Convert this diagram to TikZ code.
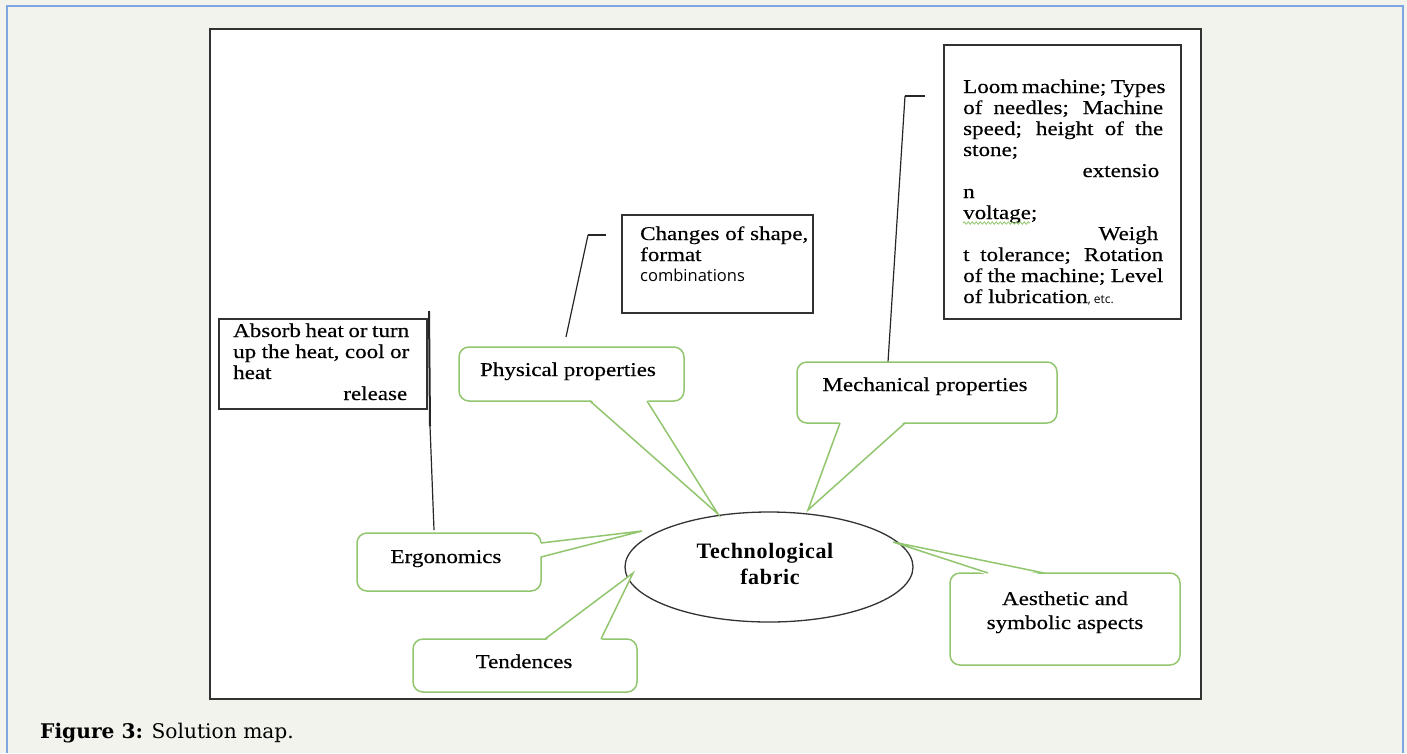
\documentclass[tikz,border=0pt]{standalone}
\usepackage{fontspec}
\setmainfont{Liberation Serif}
\newfontfamily\lab{Liberation Serif}[FakeStretch=1.18,FakeBold=0.35]
\newfontfamily\capfont{DejaVu Serif}
\newfontfamily\sansf{Open Sans}
\usetikzlibrary{shapes.geometric,decorations.pathmorphing,calc}
\definecolor{bg}{RGB}{243,243,238}
\definecolor{frameblue}{RGB}{125,165,225}
\definecolor{cgreen}{RGB}{146,198,110}
\definecolor{boxgray}{RGB}{50,50,50}
\newcommand{\labsize}{\lab\fontsize{19.5}{21}\selectfont}
\begin{document}
\begin{tikzpicture}[x=1pt,y=-1pt,
  callout/.style={draw=cgreen, line width=1.5pt, fill=white, rounded corners=10pt, inner sep=0pt},
  txtbox/.style={draw=boxgray, line width=1.4pt, fill=white, inner sep=0pt},
  lead/.style={draw=black!85, line width=1.2pt},
  ptr/.style={draw=cgreen, line width=1.5pt, line join=miter},
  lbl/.style={font=\labsize, inner sep=0pt, anchor=base},
  blk/.style={inner sep=0pt, anchor=base west, align=left}
]
\fill[bg] (0,0) rectangle (1407,753);
\useasboundingbox (0,0) rectangle (1407,753);
\draw[frameblue, line width=1.2pt] (7,753) -- (7,6) -- (1403,6) -- (1403,753);
% panel
\node[draw=boxgray, line width=1.2pt, fill=white, minimum width=991pt, minimum height=670pt, inner sep=0pt] (panel) at (705.5,364) {};

% text boxes
\node[txtbox, minimum width=237pt, minimum height=274pt] (mechbox) at (1062.5,182) {};
\node[txtbox, minimum width=191pt, minimum height=98pt] (physbox) at (717.5,264) {};
\node[txtbox, minimum width=208pt, minimum height=90pt] (ergobox) at (323,364) {};

\node[blk] (mechtxt) at (963,93) {\labsize\parbox[t]{200pt}{%
\makebox[200pt][s]{Loom machine; Types}\\
\makebox[200pt][s]{of needles; Machine}\\
\makebox[200pt][s]{speed; height of the}\\
stone;\\
\makebox[200pt][r]{extensio\hspace{4pt}}\\
n\\
voltage;\\
\makebox[200pt][r]{Weigh\hspace{5pt}}\\
\makebox[200pt][s]{t tolerance; Rotation}\\
\makebox[200pt][s]{of the machine; Level}\\
of lubrication{\sansf\fontsize{12}{12}\selectfont, etc.}}};
\coordinate (wv1) at (963,223);
\coordinate (wv2) at (1030,223);
\draw[cgreen, line width=0.8pt, decorate, decoration={snake, amplitude=1.2pt, segment length=4pt}] (wv1) -- (wv2);

\node[blk] (phystxt) at (640,240) {\labsize\parbox[t]{170pt}{%
Changes of shape,\\
format\\[-1pt]
{\sansf\fontsize{16.5}{21}\selectfont combinations}}};

\node[blk] (ergotxt) at (233,337) {\labsize\parbox[t]{176pt}{%
\makebox[176pt][s]{Absorb heat or turn}\\
\makebox[176pt][s]{up the heat, cool or}\\
heat\\
\makebox[176pt][r]{release\hspace{2pt}}}};

% leaders
\coordinate (mh1) at (925,96);
\coordinate (mh2) at (905,96);
\coordinate (mhe) at (888,362);
\draw[lead, line width=1.5pt] (mh1) -- (mh2);
\draw[lead] (mh2) -- (mhe);
\coordinate (ph1) at (606,235);
\coordinate (ph2) at (588,235);
\coordinate (phe) at (566,337);
\draw[lead, line width=1.5pt] (ph1) -- (ph2);
\draw[lead] (ph2) -- (phe);
\coordinate (eh1) at (429,311);
\coordinate (eh2) at (430,426);
\coordinate (ehe) at (434,530);
\draw[lead, line width=2pt] (eh1) -- (eh2);
\draw[lead] (eh2) -- (ehe);

% ellipse
\node[ellipse, draw=black!80, line width=1.3pt, fill=white, minimum width=288pt, minimum height=110pt, inner sep=0pt] (fab) at (769,567) {};
\node[inner sep=0pt, anchor=base, font=\fontsize{22}{24}\selectfont\bfseries\addfontfeature{LetterSpace=3}] (fab1) at (765,558) {Technological};
\node[inner sep=0pt, anchor=base, font=\fontsize{22}{24}\selectfont\bfseries\addfontfeature{LetterSpace=3}] (fab2) at (770,584) {fabric};

% callouts
\node[callout, minimum width=184pt, minimum height=58pt] (ergo) at (449,562) {};
\node[callout, minimum width=224pt, minimum height=53pt] (tend) at (525,665.5) {};
\node[callout, minimum width=225pt, minimum height=54pt] (phys) at (571.5,374) {};
\node[callout, minimum width=260pt, minimum height=61pt] (mech) at (927,392.5) {};
\node[callout, minimum width=230pt, minimum height=92pt] (aest) at (1065,619) {};

% pointers
\coordinate (eb1) at (541,543); \coordinate (eb2) at (541,557); \coordinate (et) at (642,531);
\fill[white] ($(eb1)+(-2,0)$) -- (et) -- ($(eb2)+(-2,0)$) -- cycle;
\draw[ptr] (eb1) -- (et) -- (eb2);
\coordinate (tb1) at (545,639); \coordinate (tb2) at (601,639); \coordinate (tt) at (633,573);
\fill[white] ($(tb1)+(0,2)$) -- (tt) -- ($(tb2)+(0,2)$) -- cycle;
\draw[ptr] (tb1) -- (tt) -- (tb2);
\coordinate (pb1) at (590,401); \coordinate (pb2) at (647,401); \coordinate (pt) at (718,514);
\fill[white] ($(pb1)+(0,-2)$) -- (pt) -- ($(pb2)+(0,-2)$) -- cycle;
\draw[ptr] (pb1) -- (pt) -- (pb2);
\coordinate (mb1) at (840,423); \coordinate (mb2) at (905,423); \coordinate (mt) at (808,510);
\fill[white] ($(mb1)+(0,-2)$) -- (mt) -- ($(mb2)+(0,-2)$) -- cycle;
\draw[ptr] (mb1) -- (mt) -- (mb2);
\coordinate (ab1) at (988,573); \coordinate (ab2) at (1044,573); \coordinate (at1) at (893,542);
\fill[white] ($(ab1)+(0,2)$) -- (at1) -- ($(ab2)+(0,2)$) -- cycle;
\draw[ptr] (ab1) -- (at1) -- (ab2);

% labels
\node[lbl] (ergol) at (446,563) {Ergonomics};
\node[lbl] (tendl) at (524,668) {Tendences};
\node[lbl] (physl) at (568,376) {Physical properties};
\node[lbl] (mechl) at (925,391) {Mechanical properties};
\node[lbl] (aestl1) at (1065,605) {Aesthetic and};
\node[lbl] (aestl2) at (1065,629) {symbolic aspects};

% caption
\node[inner sep=0pt, anchor=base west, font=\capfont\fontsize{20.2}{22}\selectfont] (cap) at (40,738) {\textbf{Figure 3:} Solution map.};
\end{tikzpicture}
\end{document}
